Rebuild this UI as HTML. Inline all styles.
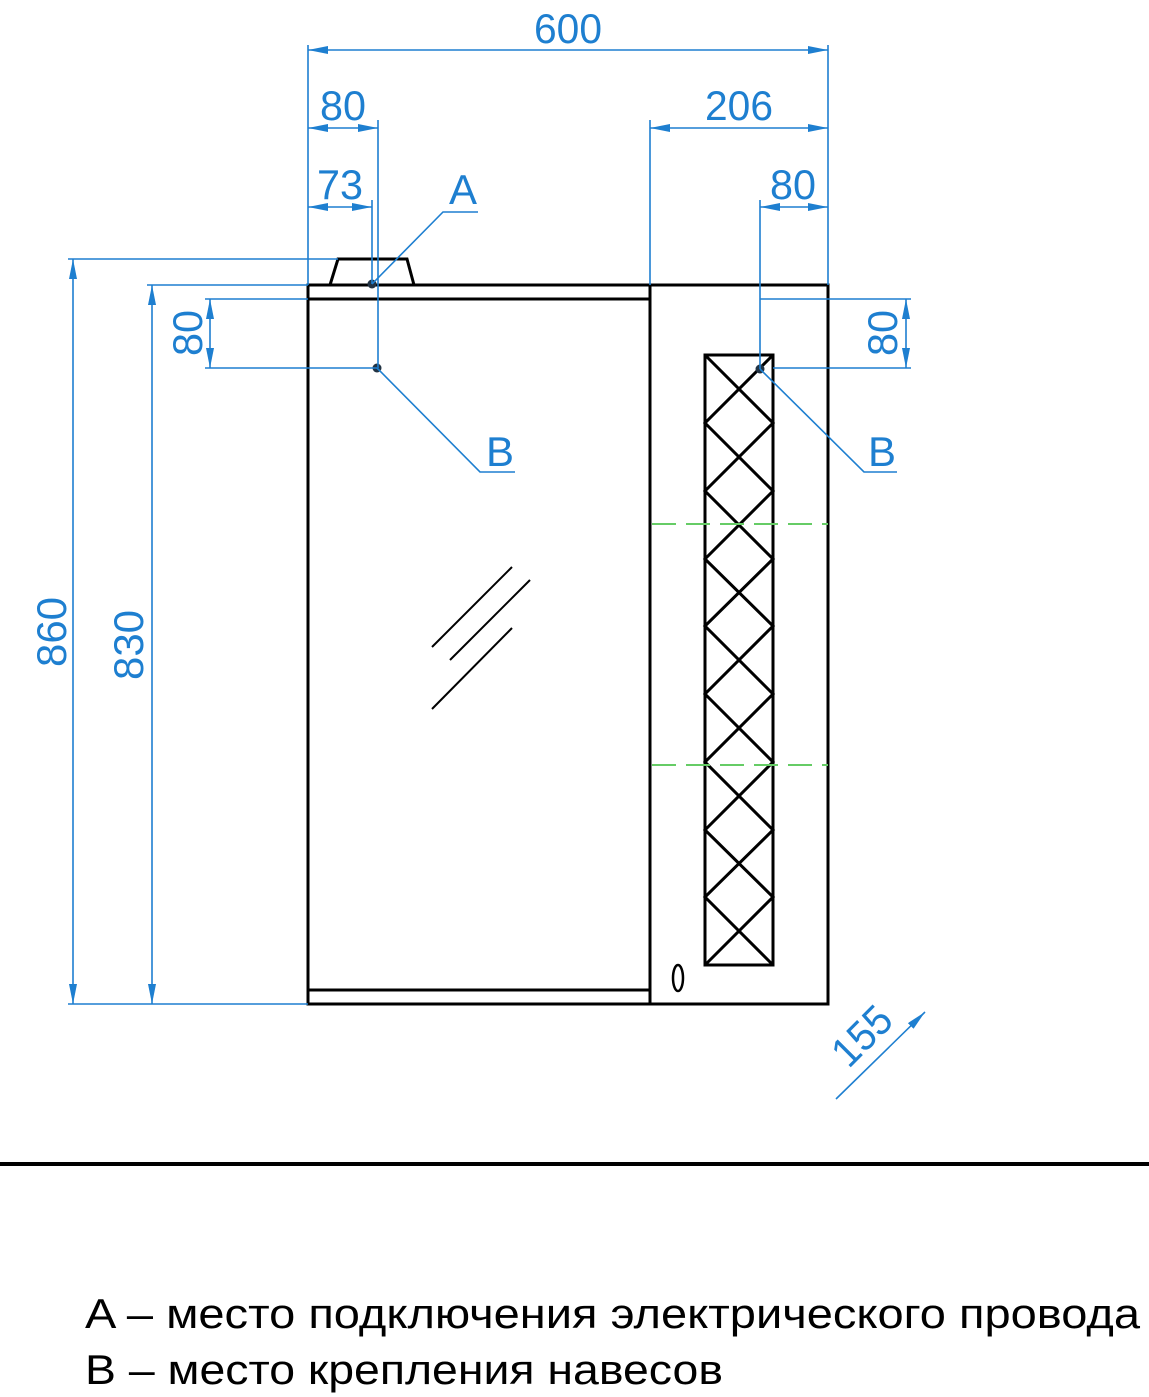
<!DOCTYPE html>
<html><head><meta charset="utf-8"><style>
html,body{margin:0;padding:0;background:#fff;}
svg{display:block;}
text{font-family:"Liberation Sans",sans-serif;}
</style></head><body>
<svg width="1149" height="1397" viewBox="0 0 1149 1397" xmlns="http://www.w3.org/2000/svg">
<defs>
<marker id="ar" viewBox="0 0 20 8" refX="20" refY="4" markerWidth="20" markerHeight="8" orient="auto-start-reverse" markerUnits="userSpaceOnUse">
<path d="M0,0 L20,4 L0,8 z" fill="#1e7fd0"/></marker>
</defs>
<g stroke="#000" stroke-width="3" fill="none">
<rect x="308" y="285" width="520" height="719"/>
<line x1="650" y1="285" x2="650" y2="1004"/>
<line x1="308" y1="299" x2="650" y2="299"/>
<line x1="308" y1="990" x2="650" y2="990"/>
<path d="M330,285 L338,259 L407,259 L414,285"/>
<rect x="705" y="355" width="68" height="610"/>
<path d="M705,355 L773,423 L705,491 L773,559 L705,626 L773,694 L705,762 L773,830 L705,897 L773,965"/>
<path d="M773,355 L705,423 L773,491 L705,559 L773,626 L705,694 L773,762 L705,830 L773,897 L705,965"/>
<ellipse cx="678" cy="978" rx="5" ry="13" stroke-width="2.5"/>
</g>
<g stroke="#000" stroke-width="2">
<line x1="432" y1="647" x2="512" y2="567"/>
<line x1="450" y1="660" x2="530" y2="580"/>
<line x1="432" y1="709" x2="512" y2="628"/>
</g>
<g stroke="#6c6" stroke-width="2" stroke-dasharray="24,10">
<line x1="652" y1="524" x2="828" y2="524"/>
<line x1="652" y1="765" x2="828" y2="765"/>
</g>
<circle cx="372" cy="284" r="4.5" fill="#234"/>
<circle cx="377" cy="368" r="4.5" fill="#234"/>
<circle cx="760" cy="369" r="4.5" fill="#234"/>
<g stroke="#1e7fd0" stroke-width="1.6" fill="none">
<line x1="308" y1="45" x2="308" y2="285"/>
<line x1="828" y1="45" x2="828" y2="285"/>
<line x1="378" y1="120" x2="378" y2="368"/>
<line x1="372" y1="200" x2="372" y2="284"/>
<line x1="650" y1="120" x2="650" y2="285"/>
<line x1="760" y1="200" x2="760" y2="369"/>
<line x1="68" y1="259" x2="338" y2="259"/>
<line x1="68" y1="1004" x2="308" y2="1004"/>
<line x1="147" y1="285" x2="308" y2="285"/>
<line x1="205" y1="299" x2="308" y2="299"/>
<line x1="205" y1="368" x2="377" y2="368"/>
<line x1="760" y1="299" x2="911" y2="299"/>
<line x1="773" y1="368" x2="911" y2="368"/>
<path d="M372,284 L443,212 L478,212"/>
<path d="M377,368 L480,472 L515,472"/>
<path d="M760,369 L864,472 L897,472"/>
<line x1="308" y1="50" x2="828" y2="50" marker-start="url(#ar)" marker-end="url(#ar)"/>
<line x1="308" y1="128" x2="378" y2="128" marker-start="url(#ar)" marker-end="url(#ar)"/>
<line x1="308" y1="207" x2="372" y2="207" marker-start="url(#ar)" marker-end="url(#ar)"/>
<line x1="650" y1="128" x2="828" y2="128" marker-start="url(#ar)" marker-end="url(#ar)"/>
<line x1="760" y1="207" x2="828" y2="207" marker-start="url(#ar)" marker-end="url(#ar)"/>
<line x1="73" y1="259" x2="73" y2="1004" marker-start="url(#ar)" marker-end="url(#ar)"/>
<line x1="152" y1="285" x2="152" y2="1004" marker-start="url(#ar)" marker-end="url(#ar)"/>
<line x1="210" y1="299" x2="210" y2="368" marker-start="url(#ar)" marker-end="url(#ar)"/>
<line x1="906" y1="299" x2="906" y2="368" marker-start="url(#ar)" marker-end="url(#ar)"/>
<line x1="836" y1="1099" x2="925" y2="1012" marker-end="url(#ar)"/>
</g>
<g fill="#1e7fd0" font-size="42" text-anchor="middle">
<text x="568" y="43" textLength="68" lengthAdjust="spacingAndGlyphs">600</text>
<text x="343" y="120" textLength="46" lengthAdjust="spacingAndGlyphs">80</text>
<text x="340" y="199" textLength="46" lengthAdjust="spacingAndGlyphs">73</text>
<text x="739" y="120" textLength="68" lengthAdjust="spacingAndGlyphs">206</text>
<text x="793" y="199" textLength="46" lengthAdjust="spacingAndGlyphs">80</text>
<text x="463" y="204">A</text>
<text x="500" y="466">B</text>
<text x="882" y="466">B</text>
<text transform="translate(66,632) rotate(-90)" textLength="70" lengthAdjust="spacingAndGlyphs">860</text>
<text transform="translate(143,645) rotate(-90)" textLength="70" lengthAdjust="spacingAndGlyphs">830</text>
<text transform="translate(202,333) rotate(-90)" textLength="46" lengthAdjust="spacingAndGlyphs">80</text>
<text transform="translate(897,333) rotate(-90)" textLength="46" lengthAdjust="spacingAndGlyphs">80</text>
<text transform="translate(872,1046) rotate(-45)" textLength="66" lengthAdjust="spacingAndGlyphs">155</text>
</g>
<line x1="0" y1="1164" x2="1149" y2="1164" stroke="#000" stroke-width="4"/>
<g fill="#000" font-size="42">
<text x="85" y="1328" textLength="1055" lengthAdjust="spacingAndGlyphs">A – место подключения электрического провода</text>
<text x="85" y="1384" textLength="638" lengthAdjust="spacingAndGlyphs">B – место крепления навесов</text>
</g>
</svg>
</body></html>
